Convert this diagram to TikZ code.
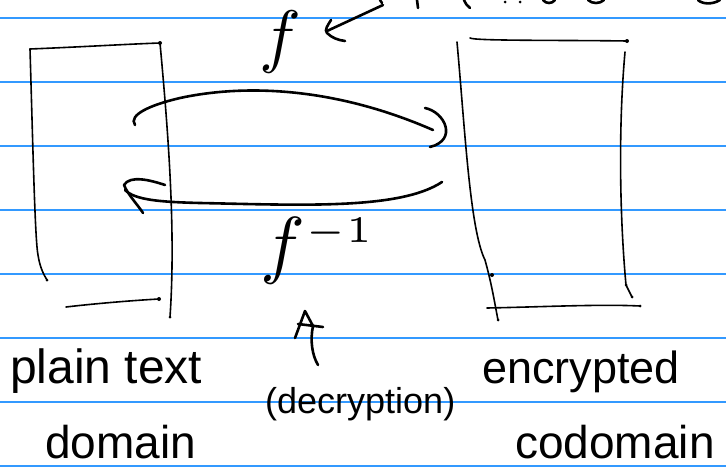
\documentclass[tikz,border=0pt]{standalone}
\usepackage{fontspec}
\setmainfont{Liberation Sans}
\definecolor{ruleblue}{RGB}{51,153,255}
\begin{document}
\begin{tikzpicture}[x=1pt,y=-1pt,line cap=round,line join=round,
  rule/.style={draw=ruleblue,line width=1.3pt},
  pen/.style={draw=black,line width=1.6pt},
  heavypen/.style={draw=black,line width=2.6pt},
  lbl/.style={inner sep=0pt,anchor=base west}]
\useasboundingbox (0,0) rectangle (726,474);
\foreach \y in {18,82,...,466} \draw[rule] (0,\y) -- (726,\y);
% cut-off strokes at the top edge
\draw[heavypen] (380,0) -- (382,3);
\draw[heavypen] (417,0) -- (418,8);
\draw[heavypen] (464,0) .. controls (466,4) and (467,6) .. (470,8);
\fill (505,2) circle (1.5pt) (520,2) circle (1.5pt);
\draw[heavypen] (543,0) .. controls (546,4) and (552,4) .. (555,0);
\draw[heavypen] (588,0) .. controls (592,4) and (600,4) .. (604,0);
\draw[heavypen] (698,0) .. controls (702,4) and (712,5) .. (720,0);
% left box (plain text domain)
\coordinate (LTL) at (30,49); \coordinate (LTR) at (160,43);
\draw[pen] (LTL) .. controls (80,47) and (130,44) .. (LTR);
\draw[pen] (LTL) .. controls (33,150) and (35,240) .. (38,255) .. controls (40,268) and (44,275) .. (47,280);
\draw[pen] (LTR) .. controls (168,130) and (176,230) .. (170,317);
\draw[pen] (66,307) .. controls (100,303) and (140,300) .. (159,299);
\fill (160,43) circle (2pt) (159,299) circle (2pt) (47,280) circle (1.5pt) (170,317) circle (1.5pt);
% right box (encrypted codomain)
\coordinate (RTL) at (470,38); \coordinate (RTR) at (627,41);
\draw[pen] (RTL) .. controls (475,41) and (560,40) .. (RTR);
\draw[pen] (457,42) .. controls (465,130) and (470,230) .. (485,260) .. controls (492,285) and (495,305) .. (498,320);
\draw[pen] (625,52) .. controls (618,130) and (620,220) .. (626,285) -- (632,297);
\draw[pen] (487,308) .. controls (540,307) and (600,304) .. (640,306);
\fill (627,41) circle (2pt) (492,275) circle (2pt) (498,320) circle (1.5pt) (626,285) circle (1.5pt) (632,297) circle (1.5pt) (640,306) circle (1.5pt);
% arrow f
\coordinate (fA) at (135,125); \coordinate (fB) at (433,130);
\draw[heavypen] (fA) .. controls (128,115) and (150,105) .. (180,98) .. controls (240,85) and (330,85) .. (fB);
\draw[heavypen] (425,108) .. controls (445,112) and (458,140) .. (430,147);
% arrow f^{-1}
\coordinate (gA) at (442,182); \coordinate (gB) at (125,190);
\draw[heavypen] (gA) .. controls (400,210) and (300,205) .. (200,203) .. controls (160,202) and (135,200) .. (gB);
\draw[heavypen] (165,185) .. controls (150,180) and (130,175) .. (124,185) .. controls (128,195) and (138,205) .. (143,213);
% labels f, f^{-1}
\node[inner sep=0pt] (f) at (280,42) {\scalebox{7}{$f$}};
\node[inner sep=0pt] (finv) at (318,251) {\scalebox{7.5}{$f^{\scriptscriptstyle -1}$}};
% pointer to f from above
\coordinate (pTop) at (383,5);
\draw[heavypen] (pTop) -- (327,31);
\draw[heavypen] (331,20) .. controls (328,25) and (324,30) .. (327,33) .. controls (332,38) and (338,40) .. (345,41);
% pointer up to f^{-1}
\coordinate (pBot) at (318,365);
\draw[heavypen] (295,338) -- (305,311) -- (313,326) .. controls (310,340) and (312,355) .. (pBot);
\draw[heavypen] (298,324) -- (323,327);
% texts
\node[lbl] (pt) at (10,383) {\fontsize{48}{48}\selectfont plain text};
\node[lbl] (dm) at (45,458) {\fontsize{46}{46}\selectfont domain};
\node[lbl] (dc) at (265,413) {\fontsize{36}{36}\selectfont (decryption)};
\node[lbl] (en) at (482,383) {\fontsize{45}{45}\selectfont encrypted};
\node[lbl] (cd) at (515,458) {\fontsize{46}{46}\selectfont codomain};
\end{tikzpicture}
\end{document}
